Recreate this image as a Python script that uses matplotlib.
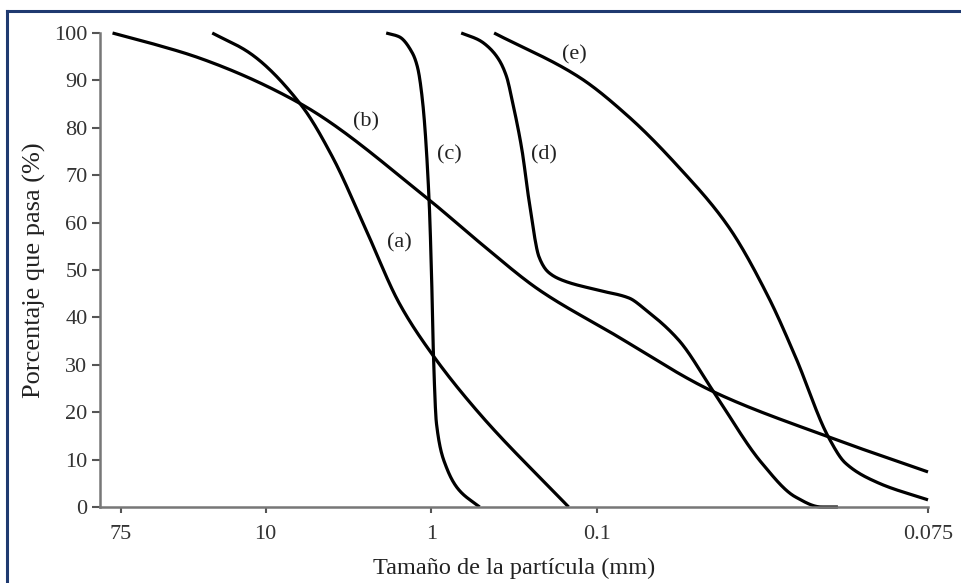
import matplotlib as mpl
from matplotlib import pyplot as plt
from matplotlib.lines import Line2D
import numpy as np

plt.rcParams['font.family'] = ['Liberation Serif', 'DejaVu Serif']

# curvas granulométricas (tamaño mm, % que pasa)
a_x = [21, 12.5, 6.1, 3.94, 2.47, 1.56, 1.0, 0.514, 0.148]
a_y = [100, 95.8, 84.8, 73.8, 58.4, 43.0, 32.5, 19.8, 0]

b_x = [84, 50, 25, 6.24, 1.03, 0.514, 0.223, 0.0812, 0.0197, 0.004, 0.001]
b_y = [100, 97.9, 94.7, 85.2, 64.8, 55.9, 45.8, 36.7, 24.3, 14.8, 7.4]

c_x = [1.87, 1.56, 1.30, 1.21, 1.13, 1.03, 0.99, 0.97, 0.93, 0.81, 0.68, 0.51]
c_y = [100, 99.2, 95.8, 92.8, 85.9, 64.8, 45.8, 32.5, 17.7, 8.4, 3.6, 0]

d_x = [0.659, 0.514, 0.45, 0.389, 0.35, 0.325, 0.283, 0.257, 0.223, 0.197,
       0.163, 0.1, 0.064, 0.0507, 0.032, 0.0197, 0.0101, 0.0063, 0.0044, 0.0035]
d_y = [100, 98.5, 97.0, 94.3, 90.7, 85.9, 75.3, 64.8, 52.7, 49.6,
       47.9, 45.8, 44.1, 41.6, 35.2, 24.3, 9.3, 2.1, 0, 0]

e_x = [0.417, 0.128, 0.064, 0.032, 0.016, 0.0092, 0.0063, 0.004, 0.00316,
       0.002, 0.001]
e_y = [100, 90.7, 82.3, 71.7, 59.1, 44.3, 31.6, 14.8, 9.3, 5.1, 1.5]

labels = ['(a)', '(b)', '(c)', '(d)', '(e)']
label_x = [1.56, 2.47, 0.78, 0.21, 0.137]
label_y = [55.7, 81.2, 74.3, 74.3, 95.4]

xticks = [75, 10, 1, 0.1, 0.001]
xtick_labels = ['75', '10', '1', '0.1', '0.075']
yticks = list(range(0, 101, 10))


def pchip(xs, ys, n=400):
    # interpolación monótona (Fritsch-Carlson) en log10(x)
    u = -np.log10(np.asarray(xs, dtype=float))
    y = np.asarray(ys, dtype=float)
    h = np.diff(u)
    d = np.diff(y) / h
    m = np.zeros_like(y)
    m[0], m[-1] = d[0], d[-1]
    for i in range(1, len(y) - 1):
        if d[i - 1] * d[i] <= 0:
            m[i] = 0
        else:
            w1 = 2 * h[i] + h[i - 1]
            w2 = h[i] + 2 * h[i - 1]
            m[i] = (w1 + w2) / (w1 / d[i - 1] + w2 / d[i])
    uu = np.linspace(u[0], u[-1], n)
    k = np.clip(np.searchsorted(u, uu) - 1, 0, len(h) - 1)
    t = (uu - u[k]) / h[k]
    h00 = 2 * t ** 3 - 3 * t ** 2 + 1
    h10 = t ** 3 - 2 * t ** 2 + t
    h01 = -2 * t ** 3 + 3 * t ** 2
    h11 = t ** 3 - t ** 2
    yy = h00 * y[k] + h10 * h[k] * m[k] + h01 * y[k + 1] + h11 * h[k] * m[k + 1]
    return 10 ** (-uu), yy


fig = plt.figure(figsize=(9.61, 5.83), dpi=100)
ax = fig.add_axes([100 / 961, 1 - 507 / 583, 828 / 961, 474 / 583])

for xs, ys in [(a_x, a_y), (b_x, b_y), (c_x, c_y), (d_x, d_y), (e_x, e_y)]:
    sx, sy = pchip(xs, ys)
    ax.plot(sx, sy, color='black', lw=2.3, solid_capstyle='butt', clip_on=False)

for lab, lx, ly in zip(labels, label_x, label_y):
    ax.text(lx, ly, lab, fontsize=16, ha='center', va='center', color='#222222')

ax.set_xscale('log')
ax.set_xlim(100, 0.001)
ax.set_ylim(0, 100)
ax.set_xticks(xticks)
ax.set_xticklabels(xtick_labels)
ax.xaxis.set_minor_locator(mpl.ticker.NullLocator())
ax.set_yticks(yticks)

for s in ['top', 'right']:
    ax.spines[s].set_visible(False)
for s in ['left', 'bottom']:
    ax.spines[s].set_color('#777777')
    ax.spines[s].set_linewidth(1.8)
ax.tick_params(axis='both', colors='#555555', labelcolor='#333333', labelsize=16,
               width=1.5)
ax.tick_params(axis='x', length=4, pad=9)
ax.tick_params(axis='y', length=6, pad=3)

ax.set_xlabel('Tamaño de la partícula (mm)', fontsize=17.5, color='#222222', labelpad=10)
ax.set_ylabel('Porcentaje que pasa (%)', fontsize=19, color='#222222', labelpad=6)

# marco azul (solo izquierda y arriba visibles)
fig.add_artist(Line2D([6.5 / 961, 6.5 / 961], [0, 1 - 10.5 / 583], color='#1f3a70', lw=2.2))
fig.add_artist(Line2D([6.5 / 961, 1], [1 - 10.5 / 583, 1 - 10.5 / 583], color='#1f3a70', lw=2.2))

fig.savefig('out.png', dpi=100)
